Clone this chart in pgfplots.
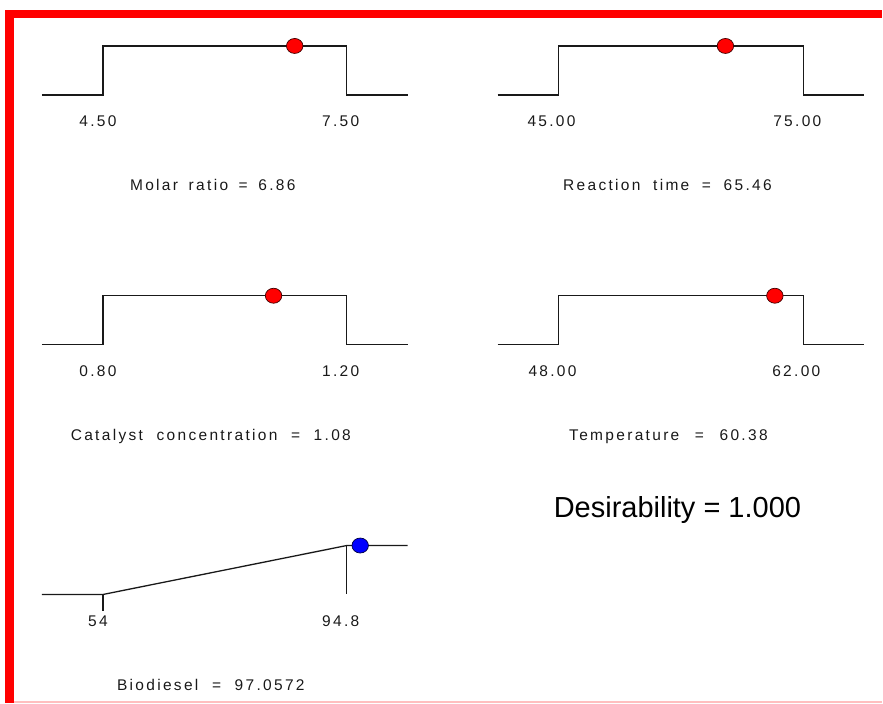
\documentclass[border=0pt]{standalone}
\usepackage{pgfplots}
\pgfplotsset{compat=1.18}
\usepackage{fontspec}
\setmainfont{Liberation Sans}
\newfontfamily\lblfont[LetterSpace=15]{Liberation Sans}
\newcommand\gp[1]{\hspace{#1pt}}
\begin{document}
\begin{tikzpicture}[x=1pt,y=1pt]
\path (0,0) rectangle (883,704);
\fill[red] (5,0) rectangle (14,694);
\fill[red] (5,686) rectangle (883,694);
\draw[red!25, line width=1.5pt] (14,1.5) -- (883,1.5);
\pgfplotsset{
  panel/.style={scale only axis, hide axis, ymin=0, ymax=1, clip=false, height=49pt, anchor=south west},
  trace/.style={black!90, line width=1.3pt, mark=none},
  dot/.style={only marks, mark=*, mark size=7.5pt, mark options={fill=#1, draw=black!75!#1, line width=0.7pt, xscale=1.1}},
  dot/.default=red
}
% Molar ratio
\begin{axis}[panel, at={(42pt,609pt)}, width=366pt, xmin=3.75, xmax=8.25]
\addplot[trace] coordinates {(3.75,0) (4.5,0) (4.5,1) (7.5,1) (7.5,0) (8.25,0)};
\addplot[dot] coordinates {(6.86,1)};
\end{axis}
% Reaction time
\begin{axis}[panel, at={(498pt,609pt)}, width=367pt, xmin=37.5, xmax=82.5]
\addplot[trace] coordinates {(37.5,0) (45,0) (45,1) (75,1) (75,0) (82.5,0)};
\addplot[dot] coordinates {(65.46,1)};
\end{axis}
% Catalyst concentration
\begin{axis}[panel, at={(42pt,359pt)}, width=366pt, xmin=0.7, xmax=1.3]
\addplot[trace] coordinates {(0.7,0) (0.8,0) (0.8,1) (1.2,1) (1.2,0) (1.3,0)};
\addplot[dot] coordinates {(1.08,1)};
\end{axis}
% Temperature
\begin{axis}[panel, at={(498pt,359pt)}, width=367pt, xmin=44.5, xmax=65.5]
\addplot[trace] coordinates {(44.5,0) (48,0) (48,1) (62,1) (62,0) (65.5,0)};
\addplot[dot] coordinates {(60.38,1)};
\end{axis}
% Biodiesel
\begin{axis}[panel, at={(42pt,109pt)}, width=366pt, xmin=43.8, xmax=105]
\addplot[trace] coordinates {(43.8,0) (54,0) (94.8,1) (105,1)};
\addplot[trace] coordinates {(54,0) (54,-0.34)};
\addplot[trace] coordinates {(94.8,1) (94.8,0)};
\addplot[dot=blue] coordinates {(97.0572,1)};
\end{axis}
\tikzset{lbl/.style={anchor=base, font=\lblfont\fontsize{15.5}{18}\selectfont, text=black!90}}
\node[lbl] at (98,577) {4.50};
\node[lbl] at (341,577) {7.50};
\node[lbl] at (552,577) {45.00};
\node[lbl] at (798,577) {75.00};
\node[lbl] at (213,513) {Molar\gp{4} ratio\gp{4} =\gp{4} 6.86};
\node[lbl] at (668,513) {Reaction\gp{6} time\gp{6} =\gp{6} 65.46};
\node[lbl] at (98,327) {0.80};
\node[lbl] at (341,327) {1.20};
\node[lbl] at (553,327) {48.00};
\node[lbl] at (797,327) {62.00};
\node[lbl] at (211,263) {Catalyst\gp{7} concentration\gp{7} =\gp{7} 1.08};
\node[lbl] at (669,263) {Temperature\gp{9} =\gp{9} 60.38};
\node[lbl] at (98,77) {54};
\node[lbl] at (341,77) {94.8};
\node[lbl] at (211,13) {Biodiesel\gp{7} =\gp{7} 97.0572};
\node[anchor=base, font=\fontsize{29}{33}\selectfont] at (678,186) {Desirability = 1.000};
\end{tikzpicture}
\end{document}
